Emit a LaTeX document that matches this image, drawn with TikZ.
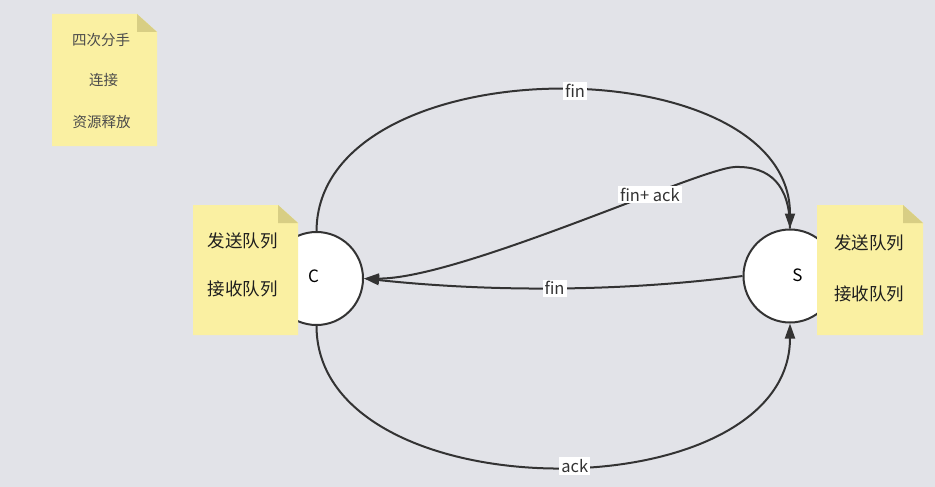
\documentclass[tikz,border=0pt]{standalone}
\usepackage{fontspec}
\setmainfont{Noto Sans CJK SC}
\usetikzlibrary{arrows.meta}
\definecolor{bg}{HTML}{E2E3E8}
\definecolor{notey}{HTML}{FAF0A2}
\definecolor{notefold}{HTML}{D8CE84}
\definecolor{edgec}{HTML}{333333}
\definecolor{txt}{HTML}{1E1E1E}
\newcommand\stickynote[4]{%
  \fill[notey] (#1,#2) -- ({#3-20},#2) -- (#3,{#2+18}) -- (#3,#4) -- (#1,#4) -- cycle;
  \fill[notefold] ({#3-20},#2) -- ({#3-20},{#2+18}) -- (#3,{#2+18}) -- cycle;}
\tikzset{
  peer/.style={circle, draw=edgec, line width=2pt, fill=white, minimum size=93pt, inner sep=0pt},
  peertext/.style={font=\fontsize{17}{17}\selectfont, text=black, inner sep=0pt},
  notetext/.style={font=\fontsize{17.5}{18}\selectfont, text=txt, inner sep=0pt},
  smallnote/.style={font=\fontsize{14.5}{15}\selectfont, text=txt!80, inner sep=0pt},
  conn/.style={draw=edgec, line width=2pt, -{Triangle[length=15pt,width=10pt]}},
  lab/.style={fill=white, inner sep=2pt, font=\fontsize{16.5}{17}\selectfont, text=edgec}
}
\begin{document}
\begin{tikzpicture}[x=1pt, y=-1pt]
  \fill[bg] (0,0) rectangle (935,487);
  \useasboundingbox (0,0) rectangle (935,487);

  % peers
  \node[peer] (C) at (316.5,278.5) {};
  \node[peer] (S) at (790,276) {};
  \node[peertext] (Ct) at (313.5,276.5) {C};
  \node[peertext] (St) at (797.5,275) {S};

  % connectors
  \draw[conn] (C.north) .. controls (318,44) and (790,44) .. (S.north)
     node[lab, pos=0.53] (l1) {fin};
  \draw[conn] (S.north) .. controls (790,185) and (770,166) .. (735,167)
     .. controls (700,168) and (460,279) .. (C.east)
     node[lab, pos=0.32] (l2) {fin+ ack};
  \draw[conn] (S.west) .. controls (620,292) and (490,292) .. (C.east)
     node[lab, pos=0.5] (l3) {fin};
  \draw[conn] (C.south) .. controls (317,514) and (790,514) .. (S.south)
     node[lab, pos=0.53] (l4) {ack};

  % notes
  \stickynote{52}{14}{157}{146}
  \node[smallnote] (n1) at (101,40) {四次分手};
  \node[smallnote] (n2) at (103.5,80) {连接};
  \node[smallnote] (n3) at (101.5,121.5) {资源释放};

  \stickynote{193}{205}{298}{335}
  \node[notetext] (cq1) at (242.5,241) {发送队列};
  \node[notetext] (cq2) at (242.5,289) {接收队列};

  \stickynote{817}{205}{923}{335}
  \node[notetext] (sq1) at (869,243) {发送队列};
  \node[notetext] (sq2) at (869,293.5) {接收队列};
\end{tikzpicture}
\end{document}
